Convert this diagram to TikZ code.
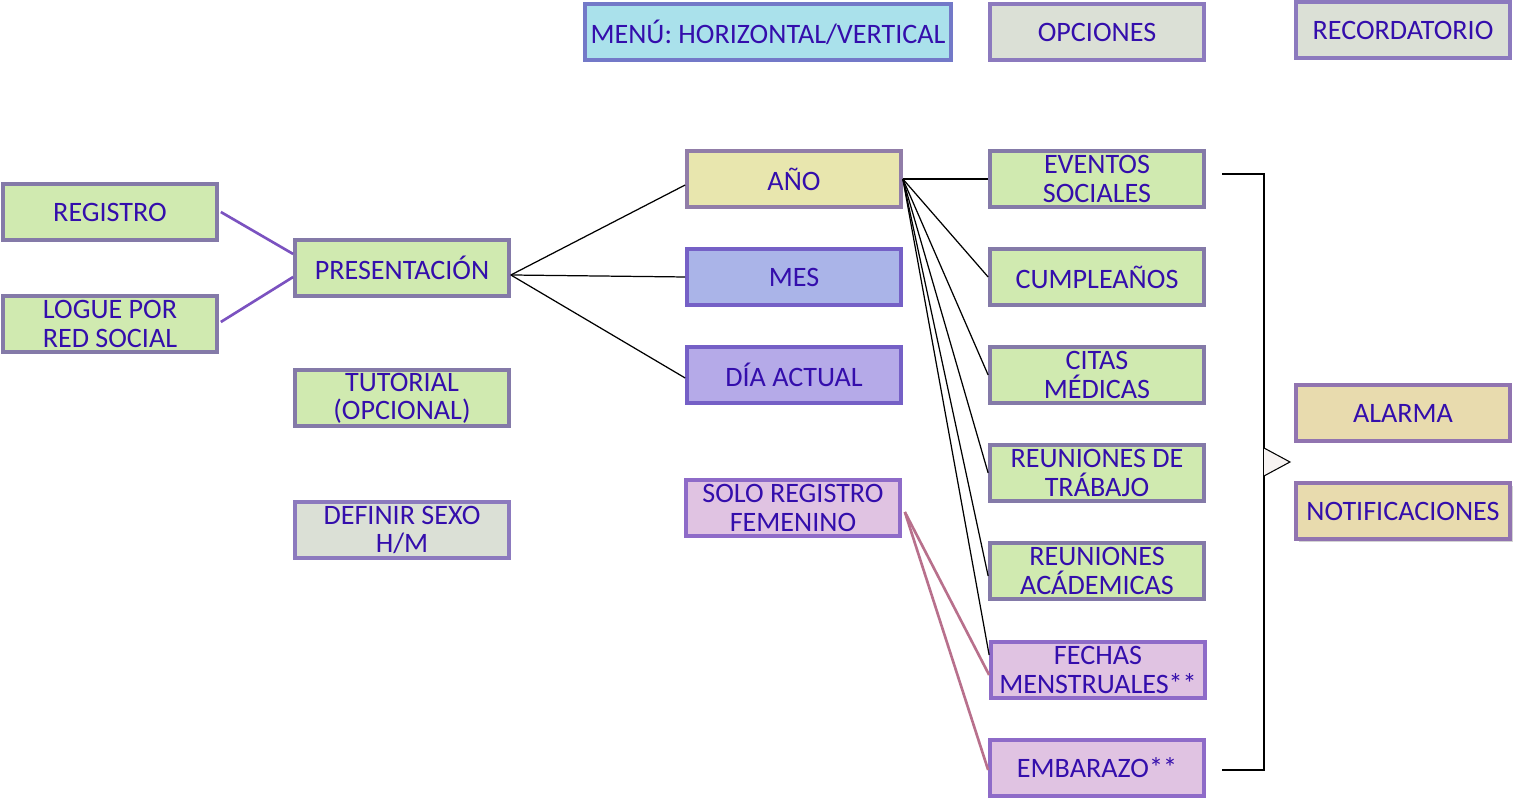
\documentclass[tikz,border=0pt]{standalone}
\usepackage{fontspec}
\setmainfont{Carlito}
\usetikzlibrary{shadows}
\definecolor{txtcol}{RGB}{52,14,172}
\definecolor{greenfill}{RGB}{208,234,176}
\definecolor{greendraw}{RGB}{132,122,168}
\definecolor{grayfill}{RGB}{219,224,214}
\definecolor{graydraw}{RGB}{140,122,190}
\definecolor{cyanfill}{RGB}{170,225,235}
\definecolor{cyandraw}{RGB}{115,121,200}
\definecolor{yellowfill}{RGB}{232,230,174}
\definecolor{yellowdraw}{RGB}{145,125,168}
\definecolor{mesfill}{RGB}{170,180,232}
\definecolor{diafill}{RGB}{181,170,232}
\definecolor{bluedraw}{RGB}{117,96,198}
\definecolor{pinkfill}{RGB}{224,195,226}
\definecolor{pinkdraw}{RGB}{142,107,200}
\definecolor{tanfill}{RGB}{232,219,174}
\definecolor{tandraw}{RGB}{145,116,176}
\definecolor{purplelink}{RGB}{123,82,192}
\definecolor{pinklink}{RGB}{184,112,140}
\definecolor{tipfill}{RGB}{247,243,242}

\begin{document}
\begin{tikzpicture}[
        every node/.append style={draw,rectangle,line width=1.05pt,
            minimum width=2.14cm,minimum height=0.56cm,inner sep=0pt,
            align=center,text=txtcol,font=\fontsize{8}{8}\selectfont},
        green/.style={fill=greenfill,draw=greendraw},
        gray/.style={fill=grayfill,draw=graydraw},
        pink/.style={fill=pinkfill,draw=pinkdraw},
        tan/.style={fill=tanfill,draw=tandraw},
        thin link/.style={line width=0.35pt},
        purple link/.style={draw=purplelink,line width=0.75pt},
        pink link/.style={draw=pinklink,line width=0.75pt}
    ]
        \useasboundingbox (0,0) rectangle (15.17,8);
        % top row
        \node[fill=cyanfill,draw=cyandraw,minimum width=3.66cm] (MENU) at (7.68, 7.68) {MENÚ: HORIZONTAL/VERTICAL};
        \node[gray] (OPC) at (10.97, 7.68) {OPCIONES};
        \node[gray] (REC) at (14.03, 7.70) {RECORDATORIO};
        % left column
        \node[green] (REG) at (1.10, 5.88) {REGISTRO};
        \node[green] (LOG) at (1.10, 4.76) {LOGUE POR\\RED SOCIAL};
        \node[green] (PRES) at (4.02, 5.32) {PRESENTACIÓN};
        \node[green] (TUT) at (4.02, 4.02) {TUTORIAL\\(OPCIONAL)};
        \node[gray] (DEF) at (4.02, 2.70) {DEFINIR SEXO\\H/M};
        % middle column
        \node[fill=yellowfill,draw=yellowdraw] (ANIO) at (7.94, 6.21) {AÑO};
        \node[fill=mesfill,draw=bluedraw] (MES) at (7.94, 5.23) {MES};
        \node[fill=diafill,draw=bluedraw] (DIA) at (7.94, 4.25) {DÍA ACTUAL};
        \node[pink] (SOLO) at (7.93, 2.92) {SOLO REGISTRO\\FEMENINO};
        % events
        \node[green] (EVE) at (10.97, 6.21) {EVENTOS\\SOCIALES};
        \node[green] (CUM) at (10.97, 5.23) {CUMPLEAÑOS};
        \node[green] (CIT) at (10.97, 4.25) {CITAS\\MÉDICAS};
        \node[green] (RTR) at (10.97, 3.27) {REUNIONES DE\\TRÁBAJO};
        \node[green] (RAC) at (10.97, 2.29) {REUNIONES\\ACÁDEMICAS};
        \node[pink] (FEC) at (10.98, 1.30) {FECHAS\\MENSTRUALES**};
        \node[pink] (EMB) at (10.97, 0.32) {EMBARAZO**};
        % reminders
        \node[tan] (ALA) at (14.03, 3.87) {ALARMA};
        \node[tan,drop shadow={shadow xshift=0.03cm,shadow yshift=-0.03cm,opacity=0.35}] (NOT) at (14.03, 2.89) {NOTIFICACIONES};
        % bracket
        \coordinate (BT) at (12.22, 6.26);
        \coordinate (BB) at (12.22, 0.30);
        \coordinate (BC) at (12.64, 3.38);
        \draw[thin link] (BT) -| (BC) |- (BB);
        \draw[line width=0.3pt,fill=tipfill] ([yshift=0.14cm]BC) -- ++(0.26,-0.14) -- ([yshift=-0.14cm]BC);
        % links
        \draw[purple link] ([xshift=0.02cm]REG.east) -- ([yshift=0.14cm]PRES.west);
        \draw[purple link] ([xshift=0.02cm,yshift=0.02cm]LOG.east) -- ([yshift=-0.09cm]PRES.west);
        \draw[thin link] ([yshift=-0.07cm]PRES.east) -- ([yshift=-0.06cm]ANIO.west);
        \draw[thin link] ([yshift=-0.07cm]PRES.east) -- (MES.west);
        \draw[thin link] ([yshift=-0.07cm]PRES.east) -- ([yshift=-0.03cm]DIA.west);
        \draw[thin link] (ANIO.east) -- (EVE.west);
        \draw[thin link] (ANIO.east) -- (CUM.west);
        \draw[thin link] (ANIO.east) -- (CIT.west);
        \draw[thin link] (ANIO.east) -- (RTR.west);
        \draw[thin link] (ANIO.east) -- ([yshift=-0.05cm]RAC.west);
        \draw[thin link] (ANIO.east) -- ([yshift=0.15cm]FEC.west);
        \draw[pink link] ([xshift=0.03cm,yshift=-0.04cm]SOLO.east) -- ([yshift=-0.05cm]FEC.west);
        \draw[pink link] ([xshift=0.03cm,yshift=-0.04cm]SOLO.east) -- ([yshift=-0.02cm]EMB.west);
    \end{tikzpicture}
\end{document}
